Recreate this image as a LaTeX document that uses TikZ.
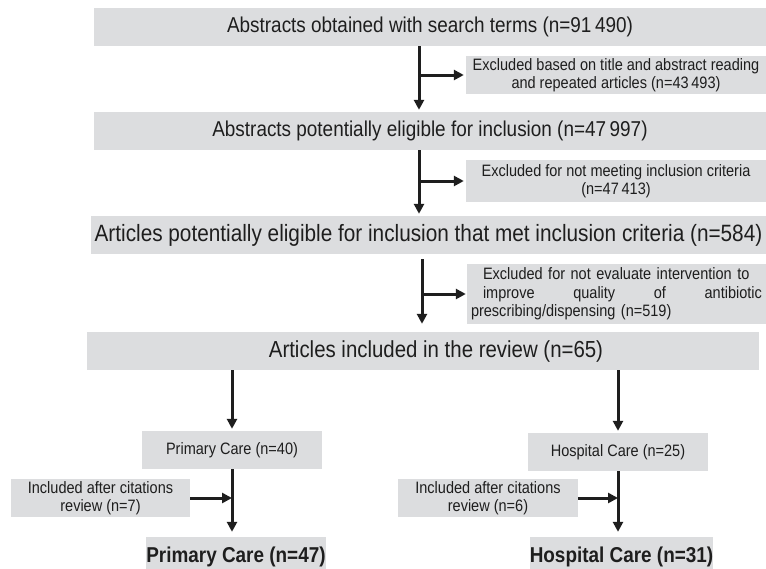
\documentclass[tikz,border=0pt]{standalone}
\usepackage{fontspec}
\setmainfont{Liberation Sans}[FakeStretch=0.88]
\usetikzlibrary{arrows.meta}
\definecolor{boxgray}{RGB}{220,221,223}
\definecolor{ink}{RGB}{30,30,30}
\tikzset{
  box/.style={fill=boxgray, inner sep=0pt, text=ink},
  big/.style={font=\fontsize{21.5}{24}\selectfont},
  bigger/.style={font=\fontsize{23.6}{26}\selectfont},
  small/.style={font=\fontsize{16.5}{18.5}\selectfont},
  bold/.style={font=\fontsize{21.5}{24}\selectfont\bfseries},
  arr/.style={line width=3pt, draw=ink, -{Triangle[length=10pt,width=10pt]}},
}
\begin{document}
\begin{tikzpicture}[x=1pt,y=-1pt]
\clip (0,0) rectangle (766,568);
\fill[white] (0,0) rectangle (766,568);
% main boxes
\node[box,big,minimum width=672pt,minimum height=38pt] (b1) at (430,27) {Abstracts obtained with search terms (n=91\,490)};
\node[box,small,minimum width=300pt,minimum height=38pt,align=center] (e1) at (616,75) {Excluded based on title and abstract reading\\and repeated articles (n=43\,493)};
\node[box,big,minimum width=672pt,minimum height=38pt] (b2) at (430,131) {Abstracts potentially eligible for inclusion (n=47\,997)};
\node[box,small,minimum width=300pt,minimum height=42pt,align=center] (e2) at (616,181) {Excluded for not meeting inclusion criteria\\(n=47\,413)};
\node[box,bigger,minimum width=675pt,minimum height=38pt] (b3) at (428.5,235) {Articles potentially eligible for inclusion that met inclusion criteria (n=584)};
\node[box,small,minimum width=299pt,minimum height=60pt,text width=291pt,align=left] (e3) at (616.5,294) {\leftskip=12pt Excluded for not evaluate intervention to\\improve\hfill quality\hfill of\hfill antibiotic\\prescribing/dispensing (n=519)};
\node[box,font=\fontsize{23.2}{26}\selectfont,minimum width=672pt,minimum height=38pt] (b4) at (423,351) {\hspace*{26pt}Articles included in the review (n=65)};
% branches
\node[box,small,minimum width=180pt,minimum height=38pt] (p1) at (232,450) {Primary Care (n=40)};
\node[box,small,minimum width=180pt,minimum height=38pt] (h1) at (618,452) {Hospital Care (n=25)};
\node[box,small,minimum width=179pt,minimum height=38pt,align=center] (c1) at (100.5,498) {Included after citations\\review (n=7)};
\node[box,small,minimum width=180pt,minimum height=38pt,align=center] (c2) at (488,498) {Included after citations\\review (n=6)};
\node[box,bold,minimum width=178pt,minimum height=40pt] (pf) at (236,557) {Primary Care (n=47)};
\node[box,bold,minimum width=179pt,minimum height=40pt] (hf) at (621.5,557) {Hospital Care (n=31)};
% arrow axes
\coordinate (a1) at (419,0);
\coordinate (a3) at (422,0);
% main flow
\draw[arr,shorten >=2pt] (b1.south -| a1) -- (b2.north -| a1);
\draw[arr,shorten >=2pt] (e1.west -| a1) -- (e1.west);
\draw[arr,shorten >=2pt] (b2.south -| a1) -- (b3.north -| a1);
\draw[arr,shorten >=2pt] (e2.west -| a1) -- (e2.west);
\draw[arr,shorten <=5pt,shorten >=8pt] (b3.south -| a3) -- (b4.north -| a3);
\draw[arr,shorten >=1pt] (e3.west -| a3) -- (e3.west);
% split
\draw[arr,shorten >=2pt] (b4.south -| p1.north) -- (p1.north);
\draw[arr,shorten >=2pt] (b4.south -| h1.north) -- (h1.north);
\draw[arr,shorten >=5pt] (p1.south) -- (p1.south |- pf.north);
\draw[arr,shorten >=5pt] (h1.south) -- (h1.south |- hf.north);
\draw[arr] (c1.east) -- (c1.east -| p1.south);
\draw[arr] (c2.east) -- (c2.east -| h1.south);
\end{tikzpicture}
\end{document}
